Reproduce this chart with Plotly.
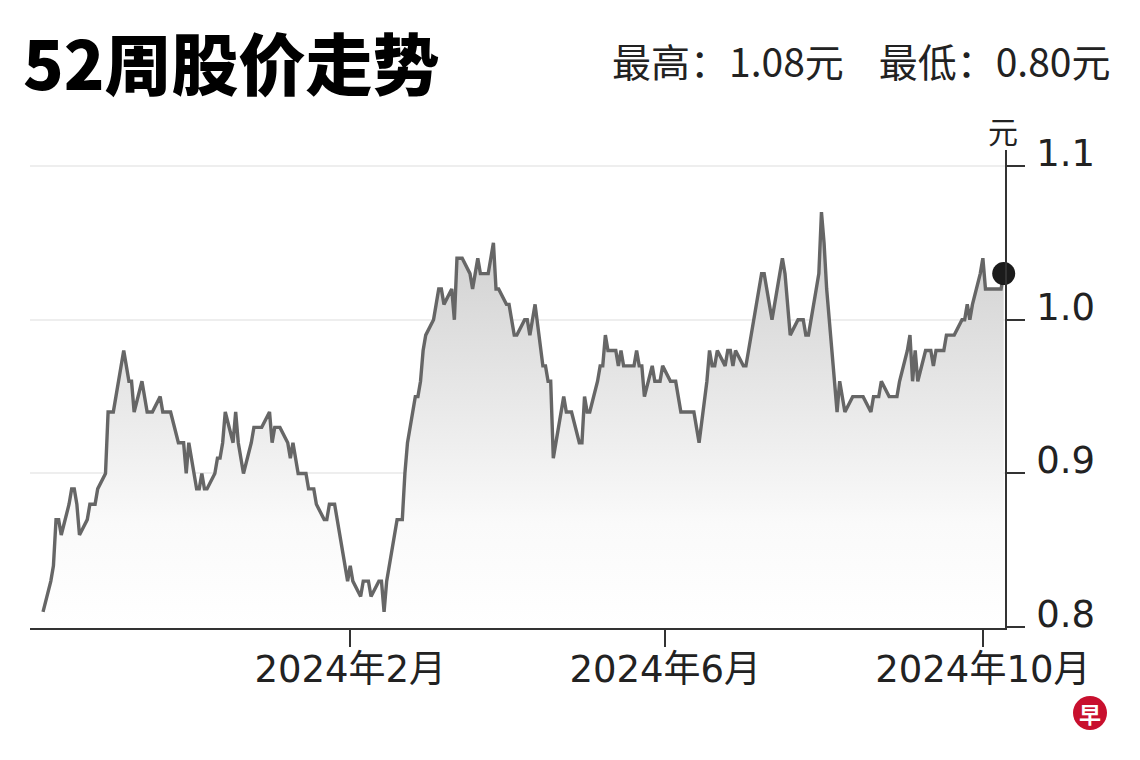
#%%

import pandas as pd
import plotly.graph_objects as go

title = "52周股价走势"
subtitle = "最高：1.08元    最低：0.80元"
unit = "元"

# one price per trading day, Fri 2023-10-06 .. Wed 2024-10-09 (rows are weeks)
dates = pd.bdate_range("2023-10-06", "2024-10-09")
prices = [
    0.81,
    0.83, 0.84, 0.87, 0.87, 0.86,
    0.88, 0.89, 0.89, 0.88, 0.86,
    0.87, 0.88, 0.88, 0.88, 0.89,
    0.90, 0.94, 0.94, 0.94, 0.95,
    0.98, 0.97, 0.96, 0.96, 0.94,
    0.96, 0.95, 0.94, 0.94, 0.94,
    0.95, 0.94, 0.94, 0.94, 0.94,
    0.92, 0.92, 0.92, 0.90, 0.92,
    0.89, 0.89, 0.90, 0.89, 0.89,
    0.90, 0.91, 0.91, 0.92, 0.94,
    0.92, 0.94, 0.92, 0.91, 0.90,
    0.92, 0.93, 0.93, 0.93, 0.93,
    0.94, 0.92, 0.93, 0.93, 0.93,
    0.92, 0.91, 0.92, 0.91, 0.90,
    0.90, 0.89, 0.89, 0.89, 0.88,
    0.87, 0.87, 0.88, 0.88, 0.88,
    0.85, 0.84, 0.83, 0.84, 0.83,
    0.82, 0.83, 0.83, 0.83, 0.82,
    0.83, 0.83, 0.81, 0.83, 0.84,
    0.87, 0.87, 0.87, 0.90, 0.92,
    0.95, 0.95, 0.96, 0.98, 0.99,
    1.00, 1.01, 1.02, 1.02, 1.01,
    1.02, 1.00, 1.04, 1.04, 1.04,
    1.03, 1.02, 1.03, 1.04, 1.03,
    1.03, 1.04, 1.05, 1.02, 1.02,
    1.01, 1.01, 1.00, 0.99, 0.99,
    1.00, 1.00, 0.99, 1.00, 1.01,
    0.97, 0.97, 0.96, 0.96, 0.91,
    0.94, 0.95, 0.94, 0.94, 0.94,
    0.92, 0.92, 0.95, 0.94, 0.94,
    0.96, 0.97, 0.97, 0.99, 0.98,
    0.98, 0.97, 0.98, 0.97, 0.97,
    0.97, 0.98, 0.97, 0.97, 0.95,
    0.97, 0.96, 0.96, 0.96, 0.97,
    0.96, 0.96, 0.96, 0.95, 0.94,
    0.94, 0.94, 0.94, 0.93, 0.92,
    0.96, 0.98, 0.97, 0.97, 0.98,
    0.97, 0.98, 0.98, 0.97, 0.98,
    0.97, 0.97, 0.98, 0.99, 1.00,
    1.03, 1.03, 1.02, 1.01, 1.00,
    1.03, 1.04, 1.03, 1.01, 0.99,
    1.00, 1.00, 1.00, 0.99, 0.99,
    1.02, 1.03, 1.07, 1.05, 1.02,
    0.96, 0.94, 0.96, 0.95, 0.94,
    0.95, 0.95, 0.95, 0.95, 0.95,
    0.94, 0.95, 0.95, 0.95, 0.96,
    0.95, 0.95, 0.95, 0.95, 0.96,
    0.98, 0.99, 0.96, 0.98, 0.96,
    0.98, 0.98, 0.98, 0.97, 0.98,
    0.98, 0.99, 0.99, 0.99, 0.99,
    1.00, 1.00, 1.01, 1.00, 1.01,
    1.03, 1.04, 1.02, 1.02, 1.02,
    1.02, 1.02, 1.03,
]
dates = dates[: len(prices)]

xtick_vals = ["2024-02-01", "2024-06-01", "2024-10-01"]
xtick_text = ["2024年2月", "2024年6月", "2024年10月"]
ytick_vals = [0.8, 0.9, 1.0, 1.1]

#%%

W, H = 1140, 760
L, R, T, B = 22, 143, 142, 140
OFF = 8  # page body margin


def px(x, y):
    # screen pixel -> paper coords
    return (x - OFF - L) / (W - L - R), (H - B - (y - OFF)) / (H - T - B)


cjk = "Noto Sans CJK SC"
num = "DejaVu Sans, Noto Sans CJK SC"
ink = "#222222"

fig = go.Figure()
fig.add_trace(
    go.Scatter(
        x=dates,
        y=prices,
        mode="lines",
        line=dict(color="#666666", width=3.4),
        fill="tozeroy",
        fillgradient=dict(
            type="vertical",
            start=0.8,
            stop=1.07,
            colorscale=[
                [0, "rgba(255,255,255,1)"],
                [0.25, "rgb(250,250,250)"],
                [1, "rgb(205,205,205)"],
            ],
        ),
        hoverinfo="x+y",
        showlegend=False,
    )
)
fig.add_trace(
    go.Scatter(
        x=[dates[-1]],
        y=[prices[-1]],
        mode="markers",
        marker=dict(color="#1b1b1b", size=23),
        showlegend=False,
        cliponaxis=False,
    )
)

fig.update_xaxes(
    type="date",
    range=["2023-10-01", "2024-10-09 12:00"],
    tickvals=xtick_vals,
    ticktext=xtick_text,
    ticks="outside",
    ticklen=17,
    tickwidth=1.5,
    tickcolor="#333",
    showline=True,
    linecolor="#333",
    linewidth=1.5,
    showgrid=False,
    zeroline=False,
    ticklabelstandoff=-9,
    tickfont=dict(family=num, size=37, color=ink),
)
fig.update_yaxes(
    side="right",
    range=[0.7995, 1.1104],
    tickvals=ytick_vals,
    tickformat=".1f",
    ticks="outside",
    ticklen=18,
    tickwidth=1.5,
    tickcolor="#333",
    showline=True,
    linecolor="#333",
    linewidth=1.5,
    showgrid=True,
    gridcolor="#eeeeee",
    gridwidth=1.5,
    zeroline=False,
    ticklabelshift=-13,
    ticklabelstandoff=4,
    tickfont=dict(family="DejaVu Sans", size=37, color=ink),
)

tx, ty = px(21, 60)
sx, sy = px(1113, 60)
ux, uy = px(1003, 130)
lx, ly = px(1090, 713)
fig.add_annotation(
    text=title, x=tx, y=ty, xref="paper", yref="paper",
    xanchor="left", yanchor="middle", showarrow=False,
    font=dict(family=cjk, size=67, color="#000", weight=900),
)
fig.add_annotation(
    text=subtitle, x=sx, y=sy, xref="paper", yref="paper",
    xanchor="right", yanchor="middle", showarrow=False,
    font=dict(family=cjk, size=39, color=ink),
)
fig.add_annotation(
    text=unit, x=ux, y=uy, xref="paper", yref="paper",
    xanchor="center", yanchor="middle", showarrow=False,
    font=dict(family=cjk, size=30, color=ink),
)
fig.add_shape(
    type="circle", xref="paper", yref="paper", xsizemode="pixel", ysizemode="pixel",
    xanchor=lx, yanchor=ly, x0=-17, x1=17, y0=-17, y1=17,
    fillcolor="#c8102e", line=dict(width=0),
)
fig.add_annotation(
    text="<b>早</b>", x=lx, y=ly, xref="paper", yref="paper",
    xanchor="center", yanchor="middle", showarrow=False,
    font=dict(family=cjk, size=22, color="white"),
)

fig.update_layout(
    width=W,
    height=H,
    margin=dict(l=L, r=R, t=T, b=B, autoexpand=False),
    paper_bgcolor="white",
    plot_bgcolor="white",
)

fig.write_html("out.html")
# %%
